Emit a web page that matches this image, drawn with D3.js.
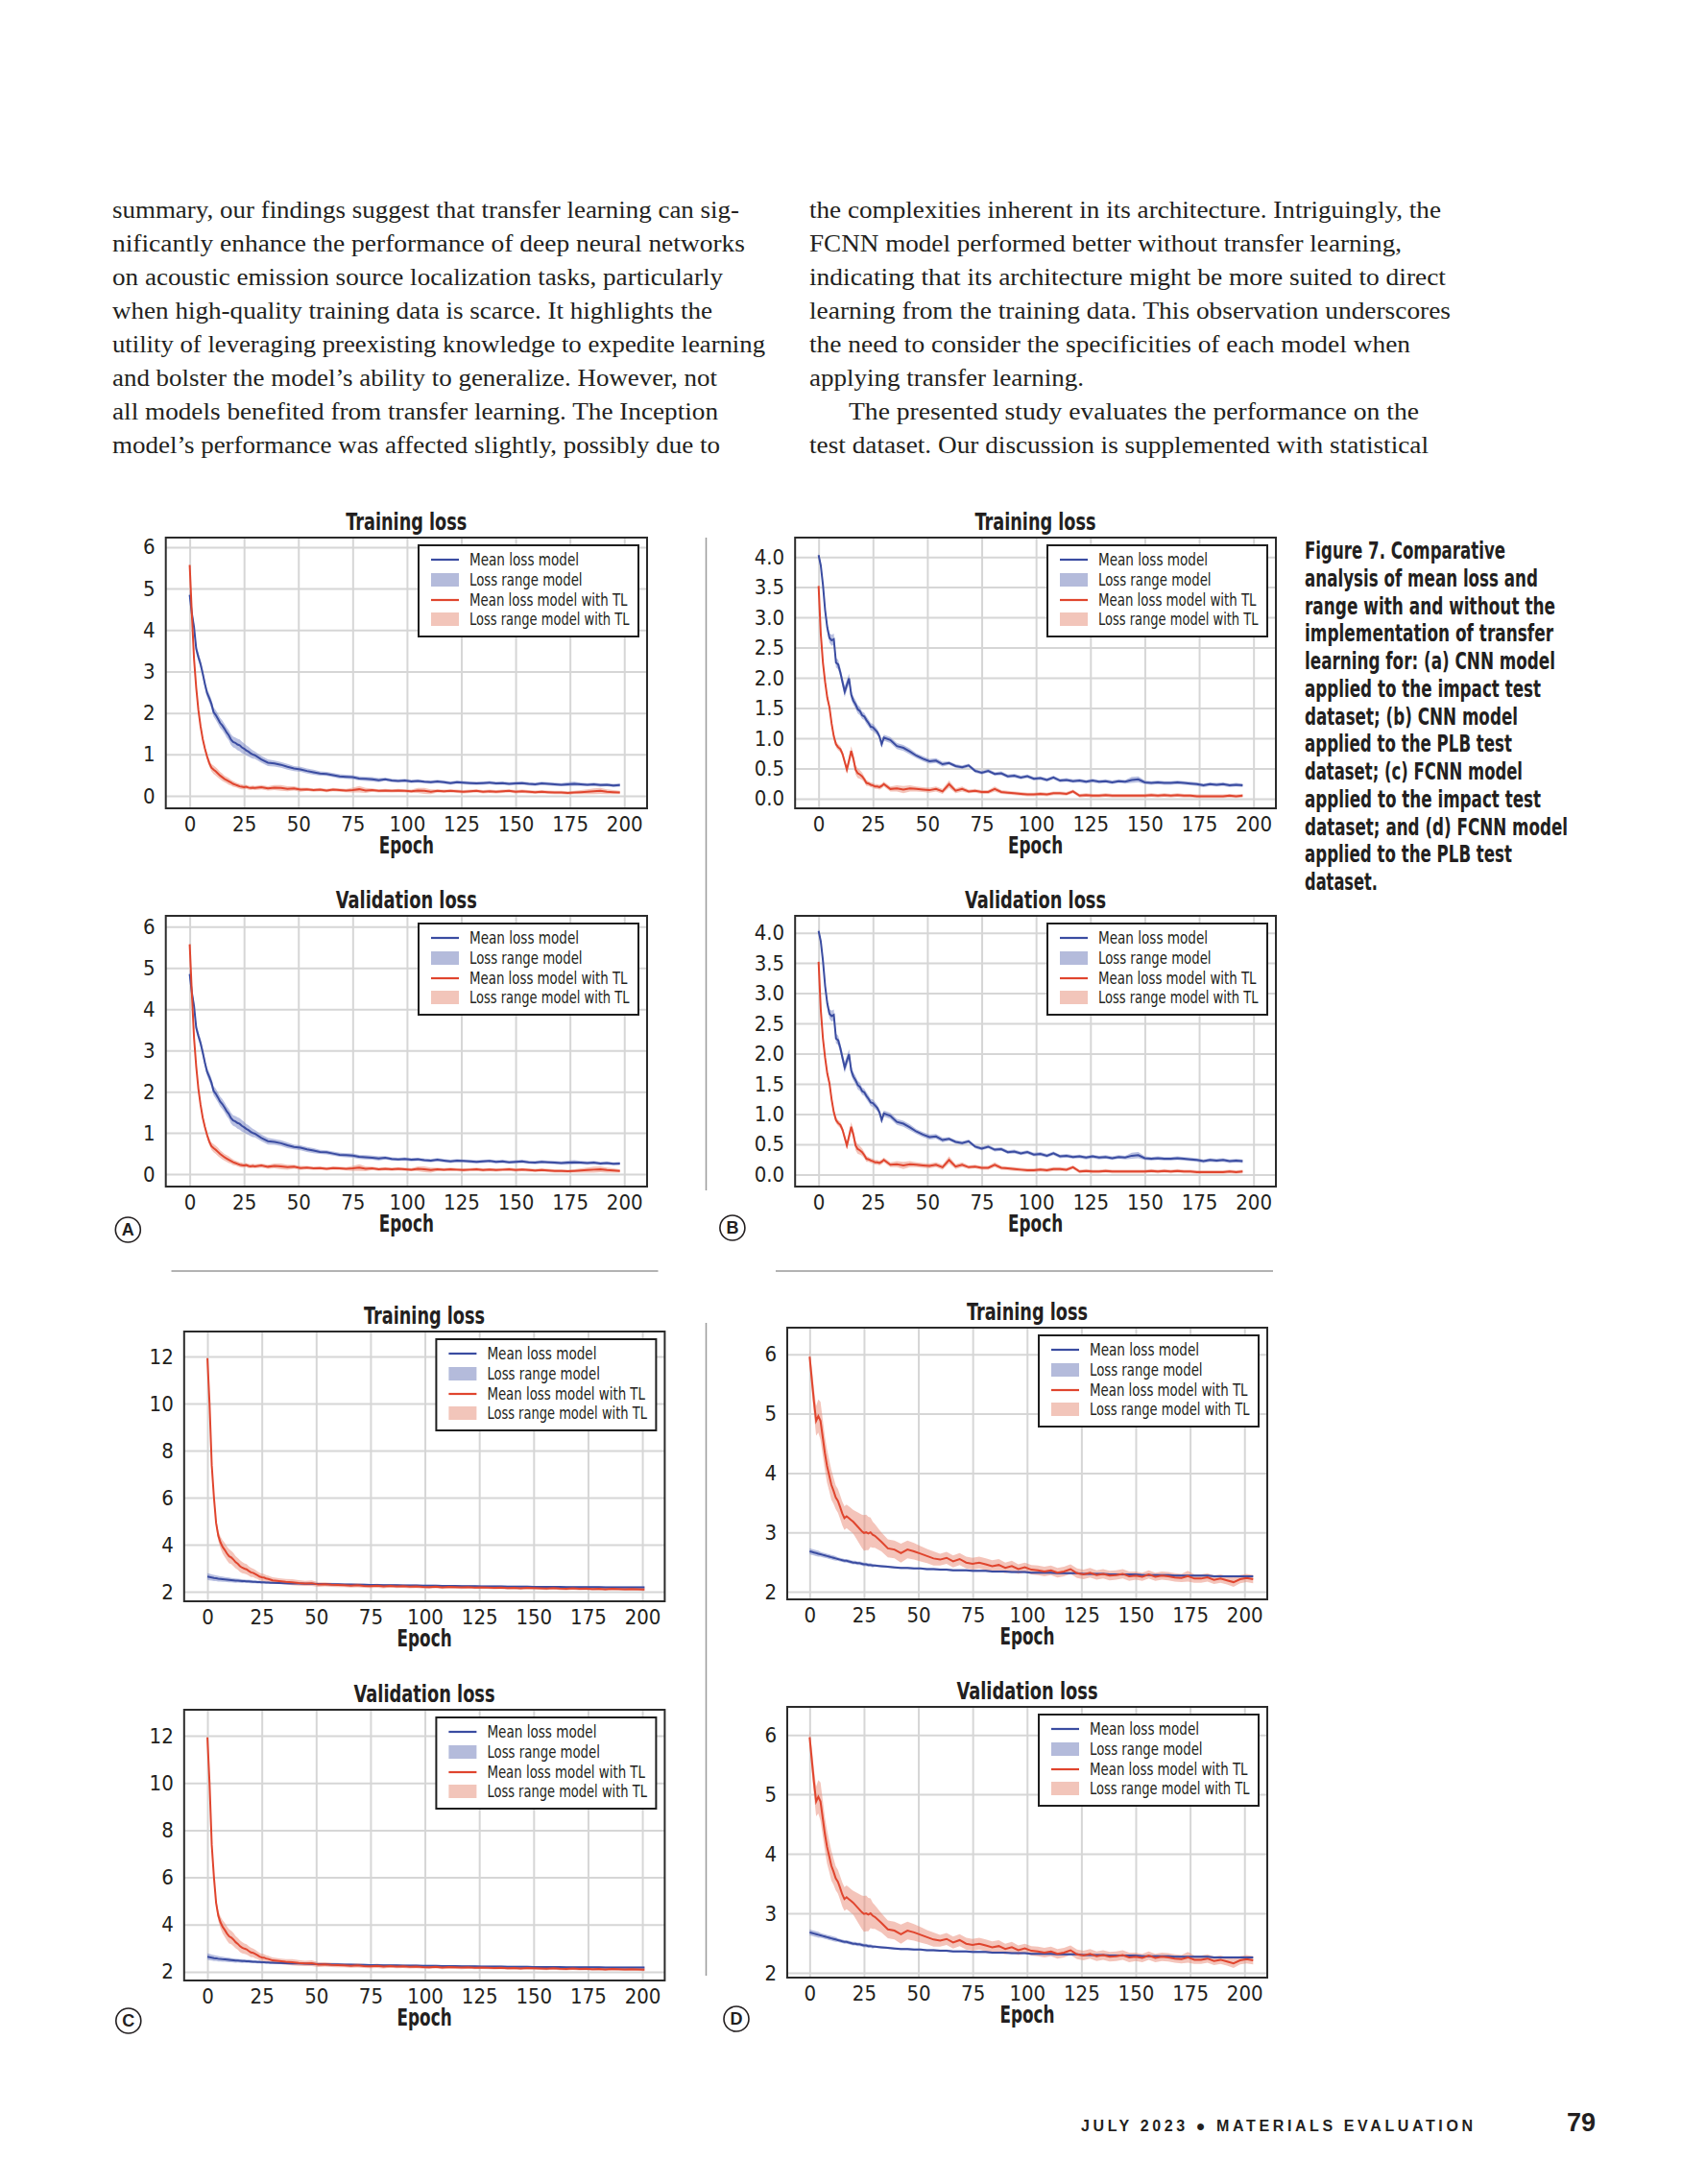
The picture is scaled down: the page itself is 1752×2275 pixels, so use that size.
<!DOCTYPE html>
<html>
<head>
<meta charset="utf-8">
<script src="https://cdn.jsdelivr.net/npm/d3@7"></script>
<style>
  body { margin: 0; background: #fff; }
  svg text { fill: #231f20; }
  .narrow { font-family: "Liberation Sans Narrow", "DejaVu Sans Condensed", "Liberation Sans", sans-serif; font-stretch: condensed; }
  .serif { font-family: "Liberation Serif", "DejaVu Serif", serif; }
  .grid line { stroke: #d6d6d6; stroke-width: 2; }
</style>
</head>
<body>
<svg id="page" width="1752" height="2275"></svg>
<script>
// ---- data ----
// x categories: every epoch to 29, then every third epoch
var epochTicks = [0, 25, 50, 75, 100, 125, 150, 175, 200];

// (a) CNN, impact test
var cnnImpactEpochs = d3.range(0, 30).concat(d3.range(30, 199, 3));
var cnnImpactMean = [4.85,4.40,4.07,3.55,3.35,3.18,2.95,2.70,2.48,2.36, 2.22,2.02,1.95,1.86,1.76,1.70,1.62,1.53,1.46,1.36, 1.30,1.28,1.24,1.22,1.17,1.14,1.10,1.07,1.03,1.00,
  0.98,0.88,0.80,0.78,0.75,0.70,0.66,0.64,0.60,0.57, 0.54,0.53,0.50,0.47,0.46,0.45,0.42,0.41,0.40,0.38, 0.40,0.37,0.36,0.37,0.35,0.36,0.34,0.33,0.35,0.33,
  0.31,0.33,0.32,0.31,0.30,0.31,0.32,0.30,0.31,0.29, 0.30,0.31,0.29,0.28,0.30,0.29,0.28,0.27,0.28,0.29, 0.28,0.27,0.28,0.26,0.27,0.25,0.26];
var cnnImpactSpread = [0.10,0.10,0.10,0.10,0.10,0.10,0.10,0.10,0.10,0.11, 0.11,0.11,0.12,0.12,0.12,0.12,0.12,0.12,0.12,0.13, 0.13,0.13,0.14,0.14,0.14,0.13,0.12,0.12,0.11,0.10,
  0.09,0.08,0.08,0.07,0.07,0.07,0.06,0.06,0.06,0.06, 0.05,0.05,0.05,0.05,0.05,0.05,0.05,0.05,0.05,0.05, 0.04,0.04,0.04,0.04,0.04,0.04,0.04,0.04,0.04,0.04,
  0.04,0.04,0.04,0.04,0.04,0.04,0.04,0.04,0.04,0.04, 0.04,0.04,0.04,0.04,0.04,0.04,0.04,0.04,0.05,0.05, 0.04,0.04,0.04,0.04,0.04,0.04,0.04];
var cnnImpactMeanTL = [5.57,4.38,3.30,2.61,2.07,1.68,1.37,1.14,0.95,0.79, 0.68,0.63,0.59,0.54,0.49,0.45,0.41,0.38,0.35,0.32, 0.29,0.27,0.25,0.23,0.22,0.21,0.22,0.20,0.19,0.20,
  0.19,0.21,0.18,0.20,0.19,0.17,0.18,0.15,0.16,0.14, 0.15,0.13,0.15,0.14,0.13,0.14,0.16,0.13,0.14,0.12, 0.13,0.12,0.13,0.12,0.11,0.13,0.12,0.10,0.12,0.11,
  0.12,0.11,0.10,0.11,0.12,0.10,0.11,0.10,0.11,0.12, 0.10,0.11,0.10,0.09,0.10,0.09,0.08,0.08,0.07,0.08, 0.09,0.10,0.11,0.12,0.10,0.09,0.08];
var cnnImpactSpreadTL = [0.06,0.08,0.08,0.07,0.07,0.06,0.06,0.06,0.07,0.08, 0.09,0.10,0.10,0.10,0.09,0.09,0.08,0.08,0.08,0.07, 0.07,0.06,0.06,0.06,0.06,0.05,0.05,0.05,0.05,0.05,
  0.05,0.05,0.05,0.06,0.07,0.06,0.05,0.05,0.04,0.04, 0.04,0.04,0.04,0.04,0.04,0.06,0.08,0.06,0.04,0.04, 0.04,0.04,0.04,0.04,0.04,0.06,0.07,0.06,0.04,0.04,
  0.04,0.04,0.04,0.04,0.04,0.04,0.04,0.04,0.04,0.04, 0.04,0.04,0.04,0.04,0.04,0.04,0.04,0.04,0.04,0.04, 0.05,0.06,0.07,0.07,0.06,0.05,0.04];

// (b) CNN, PLB test
var cnnPlbEpochs = d3.range(0, 30).concat(d3.range(30, 196, 3));
var cnnPlbMean = [4.03,3.86,3.54,3.12,2.83,2.66,2.62,2.64,2.25,2.22, 2.09,1.93,1.77,1.88,1.99,1.72,1.62,1.56,1.48,1.45, 1.38,1.36,1.30,1.25,1.19,1.18,1.14,1.10,1.03,0.90,
  1.01,0.97,0.87,0.84,0.78,0.71,0.66,0.62,0.63,0.57, 0.59,0.54,0.52,0.55,0.46,0.43,0.46,0.41,0.42,0.37, 0.38,0.35,0.37,0.33,0.34,0.31,0.35,0.30,0.31,0.29,
  0.30,0.28,0.30,0.28,0.29,0.27,0.29,0.28,0.31,0.32, 0.27,0.26,0.27,0.26,0.26,0.27,0.26,0.25,0.24,0.22, 0.24,0.23,0.24,0.22,0.23,0.22];
var cnnPlbSpread = [0.04,0.05,0.05,0.06,0.07,0.08,0.09,0.09,0.08,0.08, 0.08,0.08,0.09,0.09,0.08,0.08,0.07,0.07,0.07,0.07, 0.06,0.06,0.06,0.06,0.06,0.06,0.06,0.05,0.05,0.05,
  0.05,0.05,0.05,0.05,0.05,0.04,0.04,0.04,0.04,0.04, 0.03,0.03,0.03,0.03,0.03,0.03,0.03,0.03,0.03,0.03, 0.03,0.03,0.03,0.03,0.03,0.03,0.03,0.03,0.03,0.03,
  0.03,0.03,0.03,0.03,0.03,0.03,0.03,0.03,0.05,0.05, 0.03,0.03,0.03,0.03,0.03,0.03,0.03,0.03,0.03,0.03, 0.03,0.03,0.03,0.03,0.03,0.03];
var cnnPlbMeanTL = [3.52,2.73,2.25,1.93,1.67,1.51,1.24,1.03,0.90,0.85, 0.82,0.74,0.61,0.48,0.63,0.79,0.66,0.48,0.42,0.40, 0.37,0.32,0.26,0.25,0.23,0.22,0.20,0.20,0.19,0.21,
  0.24,0.16,0.17,0.15,0.17,0.16,0.15,0.14,0.16,0.12, 0.24,0.13,0.16,0.12,0.13,0.11,0.11,0.16,0.11,0.10, 0.09,0.08,0.07,0.07,0.08,0.07,0.09,0.09,0.08,0.12,
  0.05,0.06,0.05,0.05,0.06,0.05,0.05,0.05,0.05,0.05, 0.05,0.06,0.05,0.06,0.05,0.06,0.05,0.05,0.04,0.04, 0.04,0.04,0.04,0.05,0.04,0.05];
var cnnPlbSpreadTL = [0.04,0.05,0.05,0.05,0.05,0.05,0.05,0.05,0.05,0.05, 0.05,0.05,0.05,0.06,0.07,0.08,0.08,0.08,0.08,0.07, 0.06,0.05,0.05,0.04,0.04,0.04,0.04,0.04,0.04,0.04,
  0.04,0.04,0.05,0.06,0.05,0.04,0.04,0.04,0.04,0.04, 0.06,0.04,0.04,0.03,0.03,0.03,0.03,0.04,0.03,0.03, 0.03,0.03,0.03,0.03,0.03,0.03,0.03,0.03,0.03,0.03,
  0.03,0.03,0.03,0.03,0.03,0.03,0.03,0.03,0.03,0.03, 0.03,0.03,0.03,0.03,0.03,0.03,0.03,0.03,0.03,0.03, 0.03,0.03,0.03,0.03,0.03,0.03];

// (c) FCNN, impact test
var fcnnImpactEpochs = d3.range(0, 30).concat(d3.range(30, 202, 3));
var fcnnImpactMean = [2.64,2.62,2.60,2.58,2.57,2.55,2.54,2.53,2.52,2.51, 2.50,2.49,2.48,2.47,2.47,2.46,2.45,2.45,2.44,2.44, 2.43,2.42,2.42,2.41,2.41,2.40,2.40,2.39,2.39,2.38,
  2.38,2.37,2.36,2.35,2.35,2.34,2.33,2.32,2.32,2.31, 2.31,2.30,2.30,2.29,2.29,2.28,2.28,2.27,2.27,2.27, 2.26,2.26,2.26,2.25,2.25,2.25,2.24,2.24,2.24,2.23,
  2.23,2.23,2.22,2.22,2.22,2.22,2.21,2.21,2.21,2.21, 2.20,2.20,2.20,2.20,2.20,2.19,2.19,2.19,2.19,2.19, 2.19,2.18,2.18,2.18,2.18,2.18,2.18,2.18];
var fcnnImpactSpread = [0.14,0.14,0.13,0.13,0.12,0.12,0.11,0.11,0.10,0.10, 0.10,0.09,0.09,0.09,0.08,0.08,0.08,0.07,0.07,0.07, 0.07,0.06,0.06,0.06,0.06,0.06,0.05,0.05,0.05,0.05,
  0.05,0.05,0.05,0.05,0.05,0.05,0.05,0.05,0.05,0.05, 0.04,0.04,0.04,0.04,0.04,0.04,0.04,0.04,0.04,0.04, 0.04,0.04,0.04,0.04,0.04,0.04,0.04,0.04,0.04,0.04,
  0.04,0.04,0.04,0.04,0.04,0.04,0.04,0.04,0.04,0.04, 0.04,0.04,0.04,0.04,0.04,0.04,0.04,0.04,0.04,0.04, 0.04,0.04,0.04,0.04,0.04,0.04,0.04,0.04];
var fcnnImpactMeanTL = [11.93,9.96,7.37,6.01,4.92,4.38,4.10,3.90,3.77,3.62, 3.50,3.45,3.36,3.25,3.18,3.08,3.02,2.98,2.95,2.88, 2.82,2.80,2.75,2.70,2.64,2.61,2.60,2.56,2.54,2.51,
  2.48,2.45,2.42,2.40,2.37,2.35,2.36,2.30,2.31,2.29, 2.28,2.27,2.25,2.27,2.24,2.23,2.25,2.22,2.24,2.22, 2.23,2.21,2.22,2.20,2.19,2.21,2.18,2.20,2.19,2.18,
  2.19,2.17,2.18,2.17,2.16,2.17,2.15,2.16,2.14,2.16, 2.15,2.14,2.13,2.15,2.13,2.12,2.14,2.12,2.13,2.11, 2.12,2.10,2.12,2.11,2.10,2.11,2.10,2.09];
var fcnnImpactSpreadTL = [0.10,0.12,0.14,0.15,0.18,0.22,0.25,0.28,0.30,0.30, 0.30,0.28,0.28,0.26,0.25,0.25,0.24,0.22,0.22,0.20, 0.20,0.18,0.18,0.16,0.16,0.15,0.15,0.14,0.14,0.13,
  0.13,0.12,0.12,0.13,0.12,0.11,0.12,0.10,0.09,0.09, 0.09,0.08,0.08,0.09,0.08,0.08,0.09,0.08,0.07,0.07, 0.07,0.07,0.07,0.07,0.07,0.07,0.07,0.07,0.07,0.07,
  0.06,0.06,0.06,0.06,0.06,0.06,0.06,0.06,0.06,0.06, 0.06,0.06,0.06,0.06,0.06,0.06,0.06,0.06,0.06,0.06, 0.06,0.06,0.06,0.06,0.06,0.06,0.06,0.06];

// (d) FCNN, PLB test
var fcnnPlbEpochs = d3.range(0, 30).concat(d3.range(30, 205, 3));
var fcnnPlbMean = [2.68,2.67,2.66,2.65,2.64,2.63,2.62,2.61,2.60,2.59, 2.58,2.57,2.56,2.55,2.54,2.53,2.52,2.52,2.51,2.50, 2.49,2.49,2.48,2.48,2.47,2.46,2.46,2.45,2.45,2.44,
  2.44,2.43,2.42,2.41,2.40,2.40,2.39,2.39,2.38,2.38, 2.37,2.37,2.36,2.36,2.36,2.35,2.35,2.35,2.34,2.34, 2.34,2.33,2.33,2.33,2.32,2.32,2.32,2.32,2.31,2.31,
  2.31,2.31,2.30,2.30,2.30,2.30,2.29,2.29,2.29,2.29, 2.29,2.28,2.28,2.28,2.28,2.28,2.27,2.27,2.27,2.27, 2.27,2.27,2.26,2.26,2.26,2.26,2.26,2.26,2.26];
var fcnnPlbSpread = [0.05,0.05,0.05,0.05,0.05,0.04,0.04,0.04,0.04,0.04, 0.04,0.04,0.04,0.03,0.03,0.03,0.03,0.03,0.03,0.03, 0.03,0.03,0.03,0.03,0.03,0.03,0.03,0.03,0.03,0.03,
  0.02,0.02,0.02,0.02,0.02,0.02,0.02,0.02,0.02,0.02, 0.02,0.02,0.02,0.02,0.02,0.02,0.02,0.02,0.02,0.02, 0.02,0.02,0.02,0.02,0.02,0.02,0.02,0.02,0.02,0.02,
  0.02,0.02,0.02,0.02,0.02,0.02,0.02,0.02,0.02,0.02, 0.02,0.02,0.02,0.02,0.02,0.02,0.02,0.02,0.02,0.02, 0.02,0.02,0.02,0.02,0.02,0.02,0.02,0.02,0.02];
var fcnnPlbMeanTL = [5.96,5.58,5.20,4.88,4.96,4.88,4.61,4.34,4.12,3.96, 3.80,3.70,3.59,3.53,3.43,3.32,3.24,3.27,3.24,3.21, 3.18,3.14,3.10,3.06,3.02,2.99,3.00,2.98,3.00,2.96,
  2.94,2.84,2.73,2.71,2.65,2.71,2.68,2.64,2.60,2.56, 2.54,2.57,2.51,2.55,2.49,2.47,2.49,2.46,2.43,2.45, 2.40,2.43,2.38,2.41,2.37,2.36,2.34,2.36,2.32,2.34,
  2.38,2.31,2.29,2.32,2.28,2.30,2.27,2.28,2.30,2.26, 2.27,2.25,2.29,2.25,2.27,2.26,2.24,2.23,2.26,2.22, 2.22,2.24,2.20,2.22,2.19,2.16,2.21,2.23,2.21];
var fcnnPlbSpreadTL = [0.12,0.20,0.22,0.25,0.28,0.32,0.30,0.28,0.28,0.26, 0.25,0.22,0.20,0.20,0.20,0.20,0.20,0.20,0.20,0.20, 0.20,0.22,0.24,0.26,0.28,0.30,0.30,0.28,0.25,0.22,
  0.20,0.16,0.15,0.15,0.16,0.15,0.14,0.13,0.12,0.12, 0.10,0.10,0.10,0.10,0.10,0.10,0.10,0.10,0.10,0.10, 0.09,0.09,0.08,0.08,0.08,0.08,0.08,0.08,0.08,0.08,
  0.08,0.08,0.08,0.08,0.08,0.08,0.08,0.08,0.08,0.08, 0.07,0.07,0.07,0.07,0.07,0.07,0.07,0.07,0.09,0.07, 0.07,0.07,0.07,0.07,0.07,0.08,0.07,0.07,0.07];

var legendLabels = ["Mean loss model", "Loss range model", "Mean loss model with TL", "Loss range model with TL"];

var leftColumn = [
  "summary, our findings suggest that transfer learning can sig-",
  "nificantly enhance the performance of deep neural networks",
  "on acoustic emission source localization tasks, particularly",
  "when high-quality training data is scarce. It highlights the",
  "utility of leveraging preexisting knowledge to expedite learning",
  "and bolster the model\u2019s ability to generalize. However, not",
  "all models benefited from transfer learning. The Inception",
  "model\u2019s performance was affected slightly, possibly due to"
];
var rightColumn = [
  "the complexities inherent in its architecture. Intriguingly, the",
  "FCNN model performed better without transfer learning,",
  "indicating that its architecture might be more suited to direct",
  "learning from the training data. This observation underscores",
  "the need to consider the specificities of each model when",
  "applying transfer learning.",
  "The presented study evaluates the performance on the",
  "test dataset. Our discussion is supplemented with statistical"
];
var captionLines = [
  "Figure 7. Comparative", "analysis of mean loss and", "range with and without the",
  "implementation of transfer", "learning for: (a) CNN model", "applied to the impact test",
  "dataset; (b) CNN model", "applied to the PLB test", "dataset; (c) FCNN model",
  "applied to the impact test", "dataset; and (d) FCNN model", "applied to the PLB test", "dataset."
];

// ---- drawing ----
var svg = d3.select("#page");
var blueLine = "#3a4ca1", redLine = "#e0452e";
var blueBand = "#7f8cc8", redBand = "#e98a75";

var groups = {
  a: {epochs: cnnImpactEpochs, mean: cnnImpactMean, spread: cnnImpactSpread, meanTL: cnnImpactMeanTL, spreadTL: cnnImpactSpreadTL},
  b: {epochs: cnnPlbEpochs, mean: cnnPlbMean, spread: cnnPlbSpread, meanTL: cnnPlbMeanTL, spreadTL: cnnPlbSpreadTL},
  c: {epochs: fcnnImpactEpochs, mean: fcnnImpactMean, spread: fcnnImpactSpread, meanTL: fcnnImpactMeanTL, spreadTL: fcnnImpactSpreadTL},
  d: {epochs: fcnnPlbEpochs, mean: fcnnPlbMean, spread: fcnnPlbSpread, meanTL: fcnnPlbMeanTL, spreadTL: fcnnPlbSpreadTL}
};

var panels = [
  {g: "a", title: "Training loss",   left: 172.7, right: 674,   top: 560,  bottom: 842,  xd: [-11.0, 210.5], yd: [-0.30, 6.23], yTicks: [0,1,2,3,4,5,6], fmt: d3.format("d")},
  {g: "a", title: "Validation loss", left: 172.7, right: 674,   top: 954,  bottom: 1236, xd: [-11.0, 210.5], yd: [-0.30, 6.26], yTicks: [0,1,2,3,4,5,6], fmt: d3.format("d")},
  {g: "b", title: "Training loss",   left: 828.2, right: 1329,  top: 560,  bottom: 842,  xd: [-10.8, 210.3], yd: [-0.16, 4.32], yTicks: [0,0.5,1,1.5,2,2.5,3,3.5,4], fmt: d3.format(".1f")},
  {g: "b", title: "Validation loss", left: 828.2, right: 1329,  top: 954,  bottom: 1236, xd: [-10.8, 210.3], yd: [-0.20, 4.28], yTicks: [0,0.5,1,1.5,2,2.5,3,3.5,4], fmt: d3.format(".1f")},
  {g: "c", title: "Training loss",   left: 191.8, right: 692.4, top: 1387, bottom: 1668, xd: [-10.7, 210.3], yd: [1.59, 13.06], yTicks: [2,4,6,8,10,12], fmt: d3.format("d")},
  {g: "c", title: "Validation loss", left: 191.8, right: 692.4, top: 1781, bottom: 2063, xd: [-10.7, 210.3], yd: [1.63, 13.10], yTicks: [2,4,6,8,10,12], fmt: d3.format("d")},
  {g: "d", title: "Training loss",   left: 820,   right: 1320,  top: 1383, bottom: 1666, xd: [-10.3, 210.5], yd: [1.87, 6.45], yTicks: [2,3,4,5,6], fmt: d3.format("d")},
  {g: "d", title: "Validation loss", left: 820,   right: 1320,  top: 1778, bottom: 2060, xd: [-10.3, 210.5], yd: [1.92, 6.47], yTicks: [2,3,4,5,6], fmt: d3.format("d")}
];

function drawPanel(p, i) {
  var data = groups[p.g];
  var w = p.right - p.left, h = p.bottom - p.top;
  var x = d3.scaleLinear().domain(p.xd).range([p.left, p.right]);
  var y = d3.scaleLinear().domain(p.yd).range([p.bottom, p.top]);
  var g = svg.append("g");

  g.append("clipPath").attr("id", "clip" + i)
    .append("rect").attr("x", p.left).attr("y", p.top).attr("width", w).attr("height", h);

  // grid
  g.append("g").attr("class", "grid").attr("transform", "translate(0," + p.bottom + ")")
    .call(d3.axisBottom(x).tickValues(epochTicks).tickSize(-h).tickFormat(""))
    .call(function(a) { a.select(".domain").remove(); });
  g.append("g").attr("class", "grid").attr("transform", "translate(" + p.left + ",0)")
    .call(d3.axisLeft(y).tickValues(p.yTicks).tickSize(-w).tickFormat(""))
    .call(function(a) { a.select(".domain").remove(); });

  // tick labels
  var xa = g.append("g").attr("transform", "translate(0," + p.bottom + ")")
    .call(d3.axisBottom(x).tickValues(epochTicks).tickSize(0).tickPadding(8));
  xa.select(".domain").remove();
  xa.selectAll("text").attr("class", "narrow").style("font-size", "22px");
  var ya = g.append("g").attr("transform", "translate(" + p.left + ",0)")
    .call(d3.axisLeft(y).tickValues(p.yTicks).tickSize(0).tickPadding(11).tickFormat(p.fmt));
  ya.select(".domain").remove();
  ya.selectAll("text").attr("class", "narrow").style("font-size", "22px");

  // bands and mean lines
  var plot = g.append("g").attr("clip-path", "url(#clip" + i + ")");
  function band(mean, spread) {
    return d3.area()
      .x(function(d, j) { return x(data.epochs[j]); })
      .y0(function(d, j) { return y(d - spread[j]); })
      .y1(function(d, j) { return y(d + spread[j]); })(mean);
  }
  var line = d3.line()
    .x(function(d, j) { return x(data.epochs[j]); })
    .y(function(d) { return y(d); });
  plot.append("path").attr("d", band(data.mean, data.spread)).attr("fill", blueBand).attr("fill-opacity", 0.55);
  plot.append("path").attr("d", band(data.meanTL, data.spreadTL)).attr("fill", redBand).attr("fill-opacity", 0.5);
  plot.append("path").attr("d", line(data.mean)).attr("fill", "none").attr("stroke", blueLine).attr("stroke-width", 2);
  plot.append("path").attr("d", line(data.meanTL)).attr("fill", "none").attr("stroke", redLine).attr("stroke-width", 2);

  // frame
  g.append("rect").attr("x", p.left).attr("y", p.top).attr("width", w).attr("height", h)
    .attr("fill", "none").attr("stroke", "#2b2b2b").attr("stroke-width", 2);

  // titles
  g.append("text").attr("class", "narrow").attr("x", (p.left + p.right) / 2).attr("y", p.top - 8)
    .attr("text-anchor", "middle").style("font-size", "24px").style("font-weight", "bold")
    .attr("textLength", p.title === "Training loss" ? 126 : 147).attr("lengthAdjust", "spacingAndGlyphs")
    .text(p.title);
  g.append("text").attr("class", "narrow").attr("x", (p.left + p.right) / 2).attr("y", p.bottom + 47)
    .attr("text-anchor", "middle").style("font-size", "24px").style("font-weight", "bold")
    .attr("textLength", 57).attr("lengthAdjust", "spacingAndGlyphs")
    .text("Epoch");

  // legend
  var textW = [114, 117.5, 164.5, 166.5];
  var lw = 229;
  var lx = p.right - 9 - lw, ly = p.top + 8;
  var lg = g.append("g").attr("transform", "translate(" + lx + "," + ly + ")");
  lg.append("rect").attr("width", lw).attr("height", 95).attr("fill", "#fff")
    .attr("stroke", "#1e1e1e").attr("stroke-width", 2);
  var rows = [15, 36, 57, 77];
  legendLabels.forEach(function(lab, k) {
    var cy = rows[k];
    if (k % 2 === 0) {
      lg.append("line").attr("x1", 13).attr("x2", 42).attr("y1", cy).attr("y2", cy)
        .attr("stroke", k === 0 ? blueLine : redLine).attr("stroke-width", 2.2);
    } else {
      lg.append("rect").attr("x", 13).attr("y", cy - 7).attr("width", 29).attr("height", 14)
        .attr("fill", k === 1 ? "#b4bbdb" : "#f2c5ba");
    }
    lg.append("text").attr("class", "narrow").attr("x", 53).attr("y", cy).attr("dy", "0.36em")
      .style("font-size", "18px")
      .attr("textLength", textW[k]).attr("lengthAdjust", "spacingAndGlyphs")
      .text(lab);
  });
}

panels.forEach(drawPanel);

// separators
var sep = svg.append("g").attr("stroke", "#9a9a9a").attr("stroke-width", 1.5);
sep.append("line").attr("x1", 735.5).attr("x2", 735.5).attr("y1", 560).attr("y2", 1240);
sep.append("line").attr("x1", 735.5).attr("x2", 735.5).attr("y1", 1378).attr("y2", 2058);
sep.append("line").attr("x1", 178.5).attr("x2", 685.5).attr("y1", 1324).attr("y2", 1324);
sep.append("line").attr("x1", 808).attr("x2", 1326).attr("y1", 1324).attr("y2", 1324);

// panel letters
[["A", 133.3, 1281], ["B", 762.9, 1279], ["C", 133.8, 2105], ["D", 767, 2103]].forEach(function(m) {
  svg.append("circle").attr("cx", m[1]).attr("cy", m[2]).attr("r", 13)
    .attr("fill", "none").attr("stroke", "#231f20").attr("stroke-width", 1.6);
  svg.append("text").attr("x", m[1]).attr("y", m[2]).attr("dy", "0.36em").attr("text-anchor", "middle")
    .style("font-family", "'Liberation Sans', sans-serif").style("font-weight", "bold").style("font-size", "18px")
    .text(m[0]);
});

// body text
var leftW = [653, 659, 636, 625, 680, 630, 631, 633];
var rightW = [658, 617, 663, 668, 626, 286, 594, 645];
leftColumn.forEach(function(t, k) {
  svg.append("text").attr("class", "serif").attr("x", 117).attr("y", 227 + k * 35)
    .style("font-size", "26px").attr("textLength", leftW[k]).attr("lengthAdjust", "spacingAndGlyphs").text(t);
});
rightColumn.forEach(function(t, k) {
  svg.append("text").attr("class", "serif").attr("x", k === 6 ? 884 : 843).attr("y", 227 + k * 35)
    .style("font-size", "26px").attr("textLength", rightW[k]).attr("lengthAdjust", "spacingAndGlyphs").text(t);
});

// caption
var capW = [209, 243, 261, 259, 261, 246, 222, 216, 227, 246, 274, 216, 76];
captionLines.forEach(function(t, k) {
  svg.append("text").attr("class", "narrow").attr("x", 1359).attr("y", 582 + k * 28.75)
    .style("font-size", "25px").style("font-weight", "bold")
    .attr("textLength", capW[k]).attr("lengthAdjust", "spacingAndGlyphs").text(t);
});

// footer
svg.append("text").attr("x", 1126).attr("y", 2220)
  .style("font-family", "'Liberation Sans', sans-serif").style("font-size", "16px").style("font-weight", "600")
  .attr("textLength", 408).attr("lengthAdjust", "spacing")
  .text("JULY 2023 \u25CF MATERIALS EVALUATION");
svg.append("text").attr("x", 1632).attr("y", 2220)
  .style("font-family", "'Liberation Sans', sans-serif").style("font-size", "27px").style("font-weight", "bold")
  .text("79");
</script>
</body>
</html>
